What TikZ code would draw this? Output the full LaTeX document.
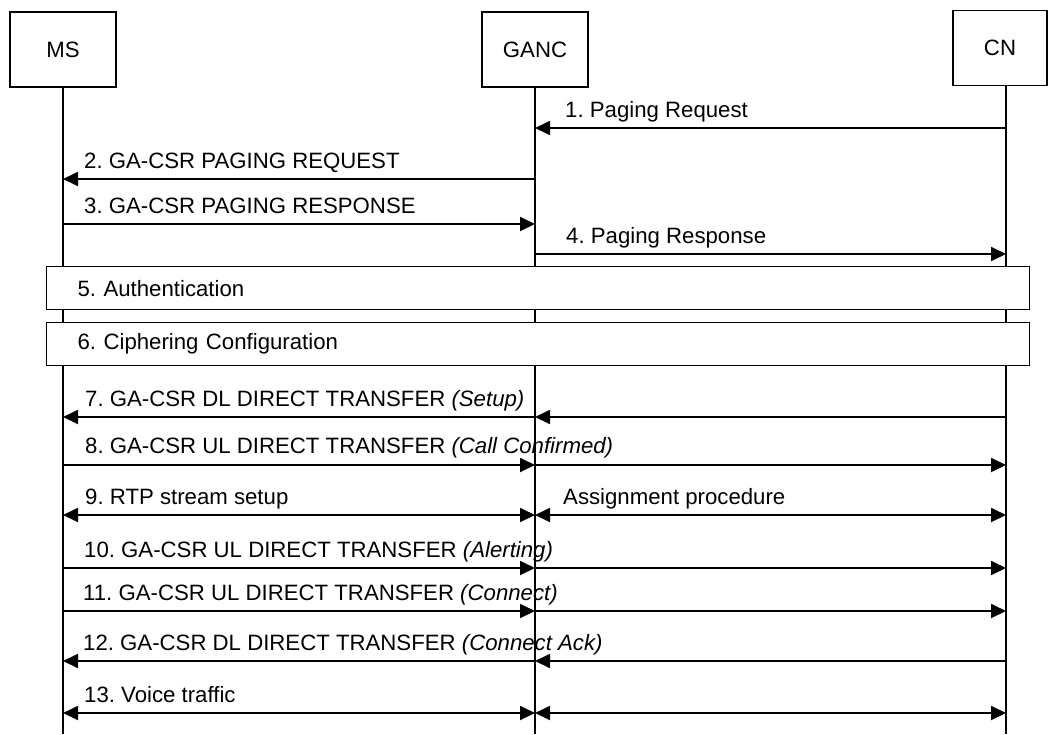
\documentclass[tikz,border=0pt]{standalone}
\usepackage{fontspec}
\setmainfont{Liberation Sans}
\usetikzlibrary{arrows.meta}
\frenchspacing
\begin{document}
\begin{tikzpicture}[x=1pt,y=-1pt,
  txt/.style={font=\fontsize{22.2}{26}\selectfont},
  ent/.style={draw,line width=1.3pt,minimum width=106pt,minimum height=75pt,inner sep=0pt,txt},
  life/.style={line width=1.8pt},
  msg/.style={line width=1.8pt,-{Triangle[length=15pt,width=14pt]}},
  bmsg/.style={line width=1.8pt,{Triangle[length=15pt,width=14pt]}-{Triangle[length=15pt,width=14pt]}},
  lbl/.style={anchor=base west,inner sep=0pt,txt},
  proc/.style={draw,line width=1.3pt,fill=white,text width=921pt,inner xsep=31pt,inner ysep=0pt,
    minimum height=43pt,anchor=north west,align=left,txt}]
\useasboundingbox (0,0) rectangle (1048,734);
% entities
\node[ent] (ms) at (63,49.5) {MS};
\node[ent] (ganc) at (535,49.5) {GANC};
\node[ent,minimum width=94pt] (cn) at (1000,48) {CN};
% lifelines
\coordinate (cntop) at (1006,86);
\coordinate (msend) at (63,734);
\coordinate (gancend) at (535,734);
\coordinate (cnend) at (1006,734);
\draw[life] (ms.south) -- (msend);
\draw[life] (ganc.south) -- (gancend);
\draw[life] (cntop) -- (cnend);
% row coordinates
\foreach \n/\y in {1/128,2/179,3/224,4/254,7/417,8/465,9/515,10/568,11/611,12/661,13/713}{
  \coordinate (m\n) at (63,\y);
  \coordinate (g\n) at (535,\y);
  \coordinate (c\n) at (1006,\y);
}
% procedures
\node[proc] (auth) at (46,266) {5. Authentication};
\node[proc] (ciph) at (46,322) {6. Ciphering Configuration};
% messages
\draw[msg] (c1) -- (g1);
\node[lbl] (l1) at (565,117) {1. Paging Request};
\draw[msg] (g2) -- (m2);
\node[lbl] (l2) at (84,168) {2. GA-CSR PAGING REQUEST};
\draw[msg] (m3) -- (g3);
\node[lbl] (l3) at (84,213) {3. GA-CSR PAGING RESPONSE};
\draw[msg] (g4) -- (c4);
\node[lbl] (l4) at (566,243) {4. Paging Response};
\draw[msg] (c7) -- (g7);
\draw[msg] (g7) -- (m7);
\node[lbl] (l7) at (85,406) {7. GA-CSR DL DIRECT TRANSFER \textit{(Setup)}};
\draw[msg] (m8) -- (g8);
\draw[msg] (g8) -- (c8);
\node[lbl] (l8) at (85,453) {8. GA-CSR UL DIRECT TRANSFER \textit{(Call Confirmed)}};
\draw[bmsg] (m9) -- (g9);
\draw[bmsg] (g9) -- (c9);
\node[lbl] (l9) at (85,504) {9. RTP stream setup};
\node[lbl] (l9b) at (563,504) {Assignment procedure};
\draw[msg] (m10) -- (g10);
\draw[msg] (g10) -- (c10);
\node[lbl] (l10) at (84,557) {10. GA-CSR UL DIRECT TRANSFER \textit{(Alerting)}};
\draw[msg] (m11) -- (g11);
\draw[msg] (g11) -- (c11);
\node[lbl] (l11) at (83,600) {11. GA-CSR UL DIRECT TRANSFER \textit{(Connect)}};
\draw[msg] (c12) -- (g12);
\draw[msg] (g12) -- (m12);
\node[lbl] (l12) at (83,650) {12. GA-CSR DL DIRECT TRANSFER \textit{(Connect Ack)}};
\draw[bmsg] (m13) -- (g13);
\draw[bmsg] (g13) -- (c13);
\node[lbl] (l13) at (84,702) {13. Voice traffic};
\end{tikzpicture}
\end{document}
